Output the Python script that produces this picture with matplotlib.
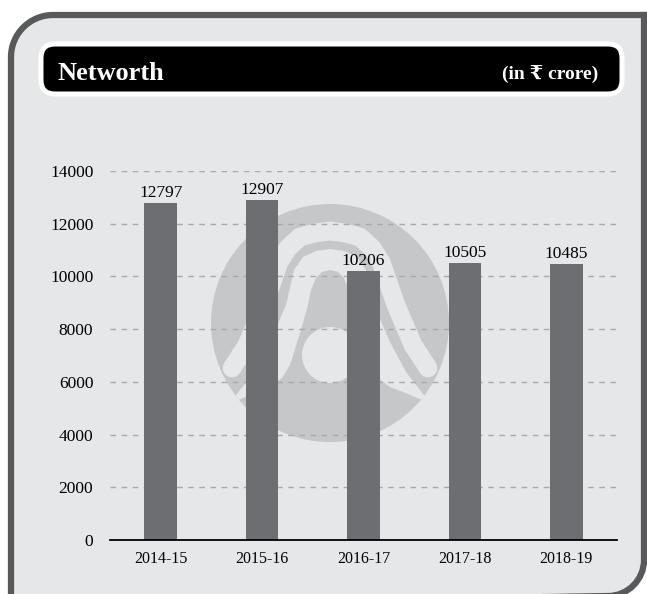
import numpy as np
import matplotlib
matplotlib.use("Agg")
import matplotlib.pyplot as plt
from matplotlib.path import Path
from matplotlib.patches import PathPatch, FancyBboxPatch, Circle, Polygon

years = ["2014-15", "2015-16", "2016-17", "2017-18", "2018-19"]
networth = [12797, 12907, 10206, 10505, 10485]
yticks = [0, 2000, 4000, 6000, 8000, 10000, 12000, 14000]

BG = "#e6e7e8"
BORDER = "#58595b"
BAR = "#6d6e71"
MARK = "#c6c7c9"
SERIF = ["Liberation Serif", "DejaVu Serif", "DejaVu Sans"]

W, H = 647, 594
fig = plt.figure(figsize=(W / 100, H / 100), dpi=100)
fig.patch.set_facecolor("white")

# background layer in pixel coordinates (y down)
bg = fig.add_axes([0, 0, 1, 1], zorder=0)
bg.set_xlim(0, W)
bg.set_ylim(H, 0)
bg.axis("off")

# leaf-shaped panel: rounded top-left and bottom-right
x0, y0, x1, y1 = 11, 15, 644, 596
r1, r2 = 42, 36
k1, k2 = 0.55 * r1, 0.55 * r2
verts = [(x0, y1 + 10), (x0, y0 + r1),
         (x0, y0 + r1 - k1), (x0 + r1 - k1, y0), (x0 + r1, y0),
         (x1 + 10, y0), (x1, y0), (x1, y1 - r2),
         (x1, y1 - r2 + k2), (x1 - r2 + k2, y1), (x1 - r2, y1),
         (x0, y1 + 10), (x0, y1 + 10)]
codes = [Path.MOVETO, Path.LINETO,
         Path.CURVE4, Path.CURVE4, Path.CURVE4,
         Path.LINETO, Path.LINETO, Path.LINETO,
         Path.CURVE4, Path.CURVE4, Path.CURVE4,
         Path.LINETO, Path.CLOSEPOLY]
bg.add_patch(PathPatch(Path(verts, codes), facecolor=BG, edgecolor=BORDER, lw=4.5))

# title bar
bg.add_patch(FancyBboxPatch((41, 44), 581, 50, boxstyle="round,pad=0,rounding_size=14",
                            facecolor="black", edgecolor="white", lw=3.6))
bg.text(57, 80, "Networth", color="white", fontsize=19, fontweight="bold",
        family=SERIF, va="baseline", ha="left")
bg.text(598, 80, "(in \u20b9 crore)", color="white", fontsize=14, fontweight="bold",
        family=SERIF, va="baseline", ha="right")

# faint logo watermark
cx, cy = 330, 323
disc = Circle((cx, cy), 119, facecolor=MARK, edgecolor="none")
bg.add_patch(disc)


def arch(profile):
    ys = [p[0] for p in profile]
    hw = [p[1] for p in profile]
    left = [(cx - w, y) for y, w in zip(ys[::-1], hw[::-1])]
    right = [(cx + w, y) for y, w in zip(ys, hw)]
    return left + right


band = [(231, 0), (233, 15), (237, 30), (248, 42), (262, 51), (305, 66), (345, 83), (368, 98)]
bx = [cx - w for y, w in band[::-1]] + [cx + w for y, w in band[1:]]
by = [y for y, w in band[::-1]] + [y for y, w in band[1:]]
ln, = bg.plot(bx, by, color=BG, lw=13.5, solid_capstyle="round", solid_joinstyle="round")
ln.set_clip_path(disc)

inner = [(249, 0), (251, 14), (257, 27), (270, 36), (305, 44), (340, 59), (372, 76),
         (385, 86), (395, 94), (410, 108), (430, 128), (460, 150)]
p = Polygon(arch(inner), closed=True, facecolor=BG, edgecolor="none")
bg.add_patch(p)
p.set_clip_path(disc)

bell = [(270, 0), (272, 8), (278, 14), (290, 19), (305, 22), (330, 29), (365, 40),
        (378, 48), (387, 60), (394, 78), (402, 96), (420, 118), (460, 150)]
p = Polygon(arch(bell), closed=True, facecolor=MARK, edgecolor="none")
bg.add_patch(p)
p.set_clip_path(disc)
bg.add_patch(Circle((cx, 355), 28, facecolor=BG, edgecolor="none"))

# chart
ax = fig.add_axes([110 / W, (H - 540) / H, 507 / W, 369 / H], zorder=1)
ax.set_facecolor("none")
x = np.arange(len(years))
bars = ax.bar(x, networth, width=0.32, color=BAR, zorder=3)
for xi, v in zip(x, networth):
    ax.text(xi, v + 220, str(v), ha="center", va="baseline", fontsize=12.5, family=SERIF)

ax.set_xlim(-0.5, 4.5)
ax.set_ylim(0, 14000)
ax.set_yticks(yticks)
ax.set_yticklabels([str(t) for t in yticks], fontsize=12.5, family=SERIF)
ax.set_xticks(x)
ax.set_xticklabels(years, fontsize=11.5, family=SERIF)
ax.tick_params(axis="y", length=0, pad=12)
ax.tick_params(axis="x", length=0, pad=8)
for t in yticks[1:]:
    ax.axhline(t, color="#a7a9ac", lw=1, dashes=(4, 4), zorder=1)
for s in ["top", "right", "left"]:
    ax.spines[s].set_visible(False)
ax.spines["bottom"].set_linewidth(1.3)
ax.spines["bottom"].set_zorder(4)

fig.savefig("out.png", dpi=100, facecolor="white")
